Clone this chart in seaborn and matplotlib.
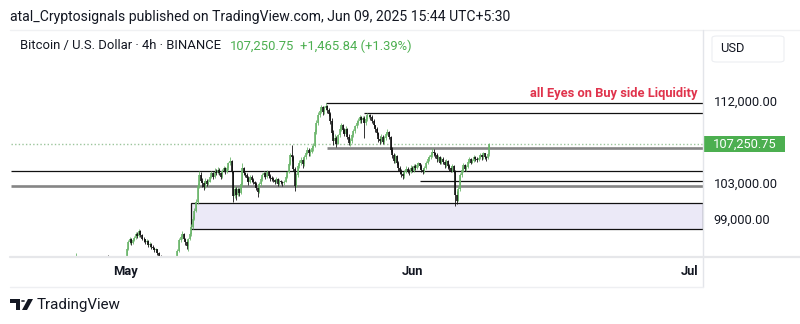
import numpy as np
import pandas as pd
import matplotlib
matplotlib.use("Agg")
import matplotlib.pyplot as plt
import matplotlib.transforms as mtransforms
from matplotlib.patches import Rectangle, FancyBboxPatch, Polygon, Circle
from matplotlib.lines import Line2D
import seaborn as sns

sns.set_theme(style="white")
plt.rcParams['font.family'] = ['Roboto', 'DejaVu Sans']

# ---------------- data (prices in thousand USD, 4h candles) ----------------
START = "2025-04-25 00:00"
FIRST_OPEN = 94.0
CLOSE = [
    93.8, 94.0, 94.2, 94.1, 94.6, 94.3,   # Apr 25
    94.2, 94.0, 94.1, 94.3, 94.0, 93.8,   # Apr 26
    93.7, 93.9, 94.0, 93.6, 93.5, 93.8,   # Apr 27
    93.9, 94.1, 94.0, 94.2, 94.3, 94.2,   # Apr 28
    94.3, 94.2, 94.1, 94.3, 94.2, 94.0,   # Apr 29
    93.8, 93.5, 93.0, 93.4, 94.0, 94.2,   # Apr 30
    94.6, 95.6, 96.4, 96.8, 96.3, 96.6,   # May 1
    96.9, 97.3, 97.1, 97.6, 97.2, 96.8,   # May 2
    96.7, 96.4, 96.5, 96.1, 96.2, 95.9,   # May 3
    95.8, 95.5, 95.6, 95.2, 94.9, 94.6,   # May 4
    94.3, 94.1, 94.3, 94.0, 94.2, 94.3,   # May 5
    94.0, 93.6, 93.8, 94.3, 95.4, 96.6,   # May 6
    97.0, 97.3, 96.8, 96.4, 96.0, 96.7,   # May 7
    97.3, 98.1, 99.0, 99.9, 100.8, 102.6, # May 8
    103.8, 103.2, 102.9, 102.5, 103.2, 102.8,  # May 9
    103.1, 103.6, 104.0, 103.6, 104.2, 104.0,  # May 10
    104.4, 104.0, 103.6, 104.3, 104.6, 104.1,  # May 11
    104.6, 105.1, 105.4, 104.2, 101.5, 102.3,  # May 12
    101.6, 102.3, 101.8, 102.8, 104.6, 104.0,  # May 13
    103.8, 103.5, 103.0, 103.6, 103.3, 103.0,  # May 14
    102.8, 102.4, 101.9, 102.8, 103.4, 103.8,  # May 15
    104.0, 103.6, 104.2, 103.7, 103.5, 103.4,  # May 16
    103.3, 103.0, 103.4, 102.8, 103.2, 103.0,  # May 17
    102.9, 103.1, 103.6, 104.1, 105.0, 106.0,  # May 18
    105.8, 104.5, 102.6, 103.8, 104.8, 105.2,  # May 19
    105.5, 105.0, 105.8, 106.3, 106.6, 106.2,  # May 20
    106.4, 106.8, 107.0, 108.6, 109.6, 110.4,  # May 21
    110.9, 111.3, 110.8, 111.2, 111.5, 111.0,  # May 22
    110.6, 109.8, 108.5, 107.6, 107.9, 107.3,  # May 23
    108.2, 108.9, 109.4, 108.8, 108.4, 108.9,  # May 24
    108.0, 107.4, 107.6, 108.2, 108.7, 109.2,  # May 25
    109.6, 109.8, 110.2, 109.9, 110.1, 109.6,  # May 26
    110.0, 110.4, 110.5, 110.2, 109.8, 109.3,  # May 27
    108.9, 108.5, 107.8, 107.6, 108.0, 107.5,  # May 28
    107.9, 108.4, 108.6, 108.0, 106.6, 106.0,  # May 29
    105.4, 105.9, 105.2, 104.6, 104.2, 103.9,  # May 30
    103.7, 104.2, 104.5, 104.3, 104.1, 104.6,  # May 31
    104.3, 104.8, 104.6, 104.9, 105.1, 104.8,  # Jun 1
    104.4, 104.1, 104.6, 105.2, 105.6, 105.8,  # Jun 2
    106.0, 106.4, 106.2, 106.0, 105.6, 105.8,  # Jun 3
    105.2, 105.6, 105.3, 104.9, 105.4, 104.8,  # Jun 4
    104.6, 104.3, 104.8, 104.2, 101.6, 101.0,  # Jun 5
    102.3, 103.8, 104.4, 104.9, 104.5, 104.7,  # Jun 6
    105.3, 105.6, 105.2, 105.4, 105.8, 105.6,  # Jun 7
    105.5, 105.7, 106.0, 105.8, 106.2, 105.8,  # Jun 8
    105.7, 106.1, 107.25075,                   # Jun 9
]
HIGH = [
    94.2, 94.3, 94.4, 94.5, 95.2, 94.7,
    94.4, 94.3, 94.3, 94.4, 94.4, 94.1,
    94.0, 94.1, 94.3, 94.1, 93.8, 94.0,
    94.1, 94.3, 94.3, 94.9, 94.7, 94.5,
    94.6, 95.0, 94.5, 94.8, 94.6, 94.4,
    94.2, 93.9, 93.7, 93.7, 94.2, 94.4,
    94.8, 95.8, 96.6, 97.0, 96.9, 96.8,
    97.1, 97.5, 97.5, 97.9, 97.7, 97.3,
    97.0, 96.8, 96.7, 96.6, 96.4, 96.3,
    96.1, 95.9, 95.8, 95.7, 95.3, 95.0,
    94.6, 94.4, 94.4, 94.4, 94.4, 94.4,
    94.4, 94.1, 94.0, 94.5, 95.6, 96.9,
    97.2, 97.6, 97.4, 96.9, 96.6, 96.9,
    97.5, 98.4, 99.3, 100.2, 101.2, 102.9,
    104.3, 104.1, 103.5, 103.2, 103.5, 103.4,
    103.4, 103.8, 104.3, 104.2, 104.6, 104.5,
    104.7, 104.6, 104.1, 104.5, 104.8, 104.7,
    104.8, 105.3, 105.8, 105.5, 104.3, 102.6,
    102.5, 102.5, 102.4, 103.0, 105.1, 104.7,
    104.2, 104.0, 103.7, 103.8, 103.8, 103.5,
    103.2, 103.0, 102.6, 103.0, 103.6, 104.0,
    104.3, 104.1, 104.4, 104.3, 103.9, 103.7,
    103.6, 103.4, 103.6, 103.5, 103.4, 103.3,
    103.2, 103.3, 103.8, 104.3, 105.3, 106.3,
    107.1, 106.0, 104.7, 104.0, 105.0, 105.5,
    105.8, 105.7, 106.0, 106.5, 106.9, 106.8,
    106.7, 107.1, 107.4, 108.9, 109.9, 110.8,
    111.2, 111.6, 111.4, 111.4, 111.75, 111.6,
    111.2, 110.8, 110.1, 108.8, 108.3, 108.1,
    108.4, 109.2, 109.6, 109.5, 109.0, 109.2,
    109.0, 108.3, 107.9, 108.4, 108.9, 109.4,
    109.9, 110.1, 110.4, 110.3, 110.3, 110.3,
    110.3, 110.63, 110.6, 110.6, 110.4, 110.0,
    109.4, 109.1, 108.6, 108.1, 108.3, 108.2,
    108.1, 108.6, 108.9, 108.7, 108.1, 106.9,
    106.2, 106.1, 106.0, 105.4, 104.8, 104.5,
    104.1, 104.4, 104.8, 104.7, 104.5, 104.9,
    104.8, 105.0, 105.0, 105.1, 105.3, 105.2,
    105.0, 104.6, 104.8, 105.4, 105.8, 106.0,
    106.2, 106.8, 106.7, 106.4, 106.2, 106.0,
    105.9, 105.8, 105.8, 105.5, 105.6, 105.5,
    105.0, 104.8, 105.0, 104.9, 104.4, 102.0,
    102.6, 104.0, 104.7, 105.2, 105.0, 104.9,
    105.5, 105.8, 105.7, 105.6, 106.0, 105.9,
    105.8, 105.9, 106.2, 106.1, 106.4, 106.3,
    105.9, 106.3, 107.4,
]
LOW = [
    93.5, 93.6, 93.8, 93.8, 94.0, 94.0,
    94.0, 93.8, 93.9, 94.0, 93.8, 93.6,
    93.5, 93.6, 93.7, 93.4, 93.2, 93.4,
    93.6, 93.8, 93.8, 93.9, 94.0, 94.0,
    94.0, 94.0, 93.9, 94.0, 94.0, 93.8,
    93.6, 93.2, 92.8, 92.9, 93.3, 93.8,
    94.1, 94.5, 95.5, 96.2, 96.1, 96.2,
    96.5, 96.8, 96.9, 97.0, 97.0, 96.6,
    96.4, 96.2, 96.2, 95.9, 95.9, 95.7,
    95.6, 95.3, 95.3, 95.0, 94.7, 94.4,
    94.0, 93.8, 93.9, 93.8, 93.9, 94.0,
    93.7, 93.4, 93.5, 93.7, 94.2, 95.3,
    96.4, 96.8, 96.6, 96.1, 95.6, 95.4,
    96.6, 97.1, 97.9, 98.8, 99.7, 100.6,
    102.4, 103.0, 102.5, 102.2, 102.4, 102.6,
    102.7, 103.0, 103.5, 103.4, 103.5, 103.8,
    103.9, 103.8, 103.4, 103.5, 104.1, 103.9,
    104.0, 104.4, 104.9, 104.0, 100.8, 101.3,
    101.1, 101.5, 101.5, 101.7, 102.6, 103.8,
    103.6, 103.2, 102.7, 102.9, 103.1, 102.8,
    102.5, 102.2, 101.4, 101.8, 102.6, 103.2,
    103.6, 103.4, 103.5, 103.5, 103.2, 103.2,
    103.1, 102.8, 102.9, 102.6, 102.7, 102.8,
    102.6, 102.7, 103.0, 103.5, 104.0, 104.9,
    105.4, 104.3, 102.0, 102.5, 103.6, 104.6,
    104.9, 104.6, 104.8, 105.6, 106.1, 105.9,
    105.9, 106.2, 106.5, 106.9, 108.4, 109.3,
    110.2, 110.7, 110.5, 110.6, 111.0, 110.7,
    110.3, 109.5, 108.2, 107.1, 107.2, 106.9,
    107.2, 108.0, 108.7, 108.5, 108.1, 108.2,
    107.8, 107.1, 107.0, 107.4, 108.0, 108.5,
    109.0, 109.3, 109.6, 109.6, 109.7, 107.9,
    109.4, 109.8, 110.1, 109.9, 109.6, 109.1,
    108.6, 108.2, 107.5, 107.3, 107.4, 107.3,
    107.3, 107.7, 108.2, 107.8, 106.4, 105.7,
    105.1, 105.2, 104.9, 104.3, 103.9, 103.6,
    103.4, 103.5, 104.0, 104.0, 103.8, 104.0,
    104.1, 104.2, 104.4, 104.5, 104.7, 104.5,
    104.2, 103.9, 104.0, 104.5, 105.0, 105.4,
    105.6, 105.8, 105.9, 105.7, 105.3, 105.4,
    105.0, 105.0, 105.0, 104.6, 104.7, 104.5,
    104.3, 104.1, 104.2, 104.0, 100.4, 100.6,
    100.9, 102.1, 103.6, 104.2, 104.3, 104.3,
    104.6, 105.1, 105.0, 105.1, 105.3, 105.4,
    105.3, 105.4, 105.6, 105.5, 105.6, 105.6,
    105.4, 105.6, 105.9,
]

LAST_PRICE = 107250.75
CHANGE_TEXT = "+1,465.84 (+1.39%)"
SYMBOL_TEXT = "Bitcoin / U.S. Dollar · 4h · BINANCE"
PUBLISHED_TEXT = "atal_Cryptosignals published on TradingView.com, Jun 09, 2025 15:44 UTC+5:30"
NOTE_TEXT = "all Eyes on Buy side Liquidity"

# drawn levels (thousand USD) and the bar they start from (None = whole chart)
BLACK_LEVELS = [111.75, 110.64, 104.27, 103.16]
BLACK_STARTS = ["2025-05-22 16:00", "2025-05-26 20:00", None, "2025-06-01 20:00"]
GRAY_LEVELS = [106.84, 102.64]
GRAY_STARTS = ["2025-05-22 20:00", None]
ZONE_LOW, ZONE_HIGH = 97.83, 100.70
ZONE_START = "2025-05-08 04:00"

PRICE_TICKS = [99.0, 103.0, 112.0]
MONTH_TICKS = ["2025-05-01", "2025-06-01", "2025-07-01"]
MONTH_LABELS = ["May", "Jun", "Jul"]

# ---------------- build frame ----------------
REF = pd.Timestamp("2025-05-01")
def to_day(ts):
    return (pd.Timestamp(ts) - REF) / pd.Timedelta(days=1)

df = pd.DataFrame({"close": CLOSE, "high": HIGH, "low": LOW})
df["time"] = pd.Timestamp(START) + pd.to_timedelta(np.arange(len(df)) * 4, unit="h")
df["x"] = (df["time"] - REF) / pd.Timedelta(days=1)
df["open"] = np.r_[FIRST_OPEN, df["close"].values[:-1]]
df["high"] = np.maximum(df["high"], df[["open", "close"]].max(axis=1))
df["low"] = np.minimum(df["low"], df[["open", "close"]].min(axis=1))
df["dir"] = np.where(df["close"] >= df["open"], "up", "down")

UP_COL = "#6bb56b"
DOWN_COL = "#111111"
TXT = "#131722"
BORDER = "#e3e5ea"

W, H = 800, 324
fig = plt.figure(figsize=(W / 100, H / 100), dpi=100)
fig.patch.set_facecolor("white")

L, R, T, B = 11, 703, 31, 257
ax = fig.add_axes([L / W, 1 - B / H, (R - L) / W, (B - T) / H])
ax.set_facecolor("white")

px_day = 565 / 61.0
xmin = -(125 - L) / px_day
xmax = 61 + (R - 690) / px_day
px_k = 9.05
ymax = 112 + (101 - T) / px_k
ymin = 112 - (B - 101) / px_k
ax.set_xlim(xmin, xmax)
ax.set_ylim(ymin, ymax)

# zone
zs = to_day(ZONE_START)
ax.add_patch(Rectangle((zs, ZONE_LOW), xmax - zs, ZONE_HIGH - ZONE_LOW,
                       facecolor="#ebe9f7", edgecolor="#111111", lw=0.9, zorder=1))

# levels
for p, s in zip(BLACK_LEVELS, BLACK_STARTS):
    x0 = xmin if s is None else to_day(s)
    ax.hlines(p, x0, xmax, colors="#111111", lw=0.9, zorder=2)
for p, s in zip(GRAY_LEVELS, GRAY_STARTS):
    x0 = xmin if s is None else to_day(s)
    ax.hlines(p, x0, xmax, colors="#858585", lw=1.9, zorder=2)

# last price dotted line
ax.axhline(LAST_PRICE / 1000, color="#9cc59c", lw=1.0, ls=(0, (1, 1.6)), zorder=2)

# candles
for d, col in (("up", UP_COL), ("down", DOWN_COL)):
    s = df[df["dir"] == d]
    ax.vlines(s["x"], s["low"], s["high"], colors=col, lw=0.6, zorder=3)
    ax.vlines(s["x"], s[["open", "close"]].min(axis=1), s[["open", "close"]].max(axis=1),
              colors=col, lw=1.2, zorder=4)
sns.despine(ax=ax, left=True, bottom=True, right=True, top=True)

# axes ticks
FS = 9.3
ax.yaxis.tick_right()
ax.set_yticks(PRICE_TICKS)
ax.set_yticklabels([f"{v * 1000:,.2f}" for v in PRICE_TICKS])
ax.tick_params(axis="y", length=0, pad=7.5, labelsize=FS, labelcolor=TXT)
ax.set_xticks([to_day(m) for m in MONTH_TICKS])
ax.set_xticklabels(MONTH_LABELS)
ax.tick_params(axis="x", length=0, pad=6.0, labelsize=FS, labelcolor=TXT)
for lb in ax.get_xticklabels():
    lb.set_fontweight("bold")
ax.grid(False)

# last price label on axis
blend = mtransforms.blended_transform_factory(ax.transAxes, ax.transData)
ax.add_patch(Rectangle((1.0, LAST_PRICE / 1000 - 8 / px_k), 82 / (R - L), 16 / px_k,
                       transform=blend, facecolor="#4caf50", edgecolor="none",
                       clip_on=False, zorder=5))
ax.text(1.0 + 10 / (R - L), LAST_PRICE / 1000, f"{LAST_PRICE:,.2f}", transform=blend,
        ha="left", va="center", color="white", fontsize=FS, zorder=6, clip_on=False)

# annotation text
ax.text(1 - 6 / (R - L), 1 - 62 / (B - T), NOTE_TEXT, transform=ax.transAxes,
        ha="right", va="center", color="#e0334c", fontsize=9.3, fontweight="bold")

# frame lines
def fline(x0, y0, x1, y1, c=BORDER, lw=1.0):
    fig.add_artist(Line2D([x0 / W, x1 / W], [1 - y0 / H, 1 - y1 / H], color=c, lw=lw,
                          transform=fig.transFigure))
fline(10, 30, 800, 30, c="#f0f1f3")
fline(R, 30, R, 287)
fline(10, B, 800, B, c="#e6e7ea", lw=1.6)
fline(10, 287, R, 287, c="#eeeff2")

# USD button
fig.add_artist(FancyBboxPatch((712 / W, 1 - 62 / H), 72 / W, 26 / H,
                              boxstyle="round,pad=0,rounding_size=0.006",
                              transform=fig.transFigure, facecolor="white",
                              edgecolor="#eceef2", lw=0.8))
fig.text(720 / W, 1 - 48 / H, "USD", fontsize=FS, color=TXT, va="center")

# header
fig.text(10 / W, 1 - 17 / H, PUBLISHED_TEXT, fontsize=10.1, color=TXT, va="center")
fig.text(20 / W, 1 - 46 / H, SYMBOL_TEXT, fontsize=9.4, color=TXT, va="center")
fig.text(230 / W, 1 - 46 / H, f"{LAST_PRICE:,.2f}", fontsize=9.4, color="#4caf50", va="center")
fig.text(300 / W, 1 - 46 / H, CHANGE_TEXT, fontsize=9.4, color="#4caf50", va="center")

# TradingView logo
def fpoly(pts, **kw):
    fig.add_artist(Polygon([(x / W, 1 - y / H) for x, y in pts], closed=True,
                           transform=fig.transFigure, **kw))
fpoly([(10, 299), (20, 299), (20, 310), (15.5, 310), (15.5, 303), (10, 303)], facecolor=TXT, edgecolor="none")
fig.add_artist(Circle((23 / W, 1 - 301 / H), 2.0 / W, transform=fig.transFigure, facecolor=TXT, edgecolor="none"))
fpoly([(28, 299), (33, 299), (27, 310), (22, 310)], facecolor=TXT, edgecolor="none")
fig.text(37 / W, 1 - 305 / H, "TradingView", fontsize=10.9, color=TXT, va="center")

fig.savefig("out.png", dpi=100, facecolor="white")
